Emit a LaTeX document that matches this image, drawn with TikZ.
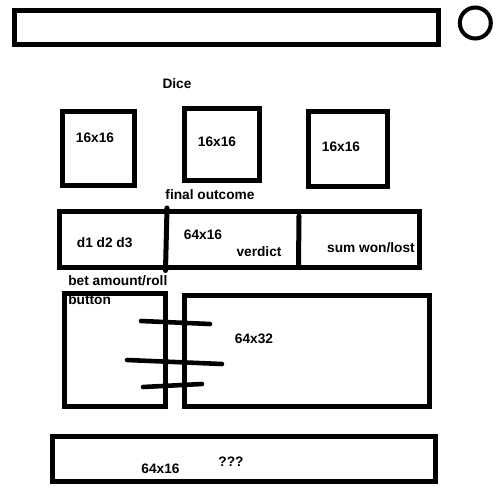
\documentclass[tikz,border=0pt]{standalone}
\usepackage{fontspec}
\setmainfont{Liberation Sans}
\begin{document}
\begin{tikzpicture}[x=0.02cm,y=-0.02cm,
  box/.style={draw=black,line width=2.85pt,fill=none,inner sep=0pt,outer sep=0pt},
  lbl/.style={inner sep=0pt,font=\fontsize{7.8}{9}\selectfont\bfseries},
  stroke/.style={line width=2.6pt,line cap=round},
  divider/.style={line width=2.85pt,line cap=round}]
\useasboundingbox[fill=white] (0,0) rectangle (500,500);
% top bar and circle
\node[box,minimum width=8.48cm,minimum height=0.69cm] (top) at (226.5,27.75) {};
\node[draw=black,line width=2.3pt,circle,minimum size=0.62cm,inner sep=0pt] (circ) at (475.3,23) {};
% dice
\node[lbl] (dice) at (177,84) {Dice};
\node[box,minimum width=1.44cm,minimum height=1.48cm] (d1) at (98.5,148.5) {};
\node[box,minimum width=1.5cm,minimum height=1.44cm] (d2) at (222,144.5) {};
\node[box,minimum width=1.58cm,minimum height=1.5cm] (d3) at (348,149) {};
\node[lbl] (t1) at (95,137.7) {16x16};
\node[lbl] (t2) at (217,141.7) {16x16};
\node[lbl] (t3) at (341,146.7) {16x16};
% final outcome bar
\node[lbl] (fo) at (210,195) {final outcome};
\node[box,minimum width=7.2cm,minimum height=1.12cm] (mid) at (239.5,239.5) {};
\coordinate (v1a) at (167,208);
\coordinate (v1b) at (165.5,270.5);
\coordinate (v2a) at (299,216);
\coordinate (v2b) at (298.5,265);
\draw[divider] (v1a) -- (v1b);
\draw[divider] (v2a) -- (v2b);
\node[lbl] (dd) at (104.7,243) {d1 d2 d3};
\node[lbl] (m64) at (203,235) {64x16};
\node[lbl] (ver) at (259,251.7) {verdict};
\node[lbl] (sum) at (371,247.7) {sum won/lost};
% bet area
\node[lbl,anchor=west] (bet) at (68,281) {bet amount/roll};
\node[lbl,anchor=west] (btn) at (68,299.5) {button};
\node[box,minimum width=2.02cm,minimum height=2.26cm] (ll) at (115,350) {};
\node[box,minimum width=4.9cm,minimum height=2.22cm] (lr) at (307,351) {};
\node[lbl] (m32) at (254,339) {64x32};
\coordinate (s1a) at (141,321);
\coordinate (s1b) at (210,324);
\coordinate (s2a) at (127,360);
\coordinate (s2b) at (222,364);
\coordinate (s3a) at (143,387);
\coordinate (s3b) at (202,384);
\draw[stroke] (s1a) -- (s1b);
\draw[stroke] (s2a) -- (s2b);
\draw[stroke] (s3a) -- (s3b);
% bottom bar
\node[box,minimum width=7.66cm,minimum height=0.9cm] (bot) at (244,459) {};
\node[lbl] (b64) at (160.5,469) {64x16};
\node[lbl] (qq) at (231,462) {???};
\end{tikzpicture}
\end{document}
